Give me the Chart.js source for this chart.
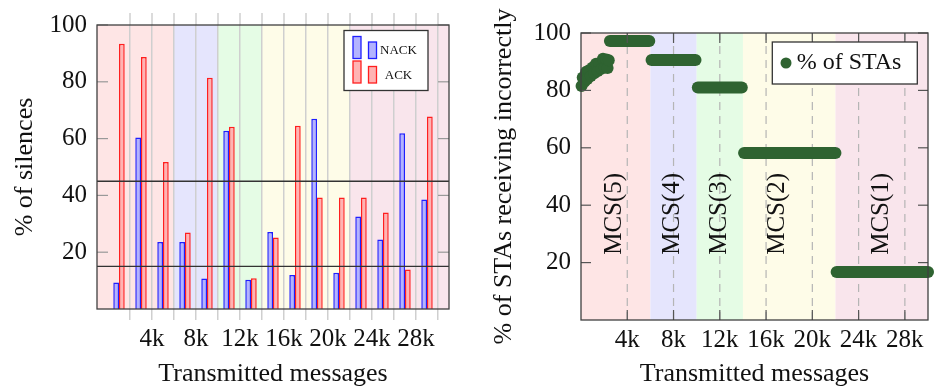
<!DOCTYPE html>
<html>
<head>
<meta charset="utf-8">
<script src="https://cdn.jsdelivr.net/npm/chart.js@4/dist/chart.umd.min.js"></script>
<style>
  body { margin: 0; background: #fff; width: 934px; height: 390px; overflow: hidden; position: relative; }
  .box { position: absolute; top: 0; width: 467px; height: 390px; }
  #left { left: 0; }
  #right { left: 467px; }
</style>
</head>
<body>
<div class="box" id="left"><canvas id="silences"></canvas></div>
<div class="box" id="right"><canvas id="stas"></canvas></div>
<script>
// ---- data ----
const groupX = [1000, 3000, 5000, 7000, 9000, 11000, 13000, 15000, 17000, 19000, 21000, 23000, 25000, 27000, 29000];
const nackPct = [9.3, 60.4, 23.6, 23.6, 10.7, 62.8, 10.3, 27.1, 12.0, 67.0, 12.8, 32.6, 24.5, 61.9, 38.6];
const ackPct = [93.4, 88.7, 51.8, 26.9, 81.4, 64.2, 10.8, 25.2, 64.5, 39.3, 39.3, 39.3, 34.0, 13.9, 67.8];
const thresholds = [15, 45];

const yTicks = [20, 40, 60, 80, 100];
const leftGridTicks = [2000, 4000, 6000, 8000, 10000, 12000, 14000, 16000, 18000, 20000, 22000, 24000, 26000, 28000, 30000];
const labelTicks = [4000, 8000, 12000, 16000, 20000, 24000, 28000];

// MCS regions (same on both plots)
const mcsEdges = [6000, 10000, 14000, 22000];
const bandColors = ['#fee5e5', '#e5e5fd', '#e5fce5', '#fefce8', '#f9e5ec'];
const mcsNames = ['MCS(5)', 'MCS(4)', 'MCS(3)', 'MCS(2)', 'MCS(1)'];
const mcsLabelX = [2900, 7900, 12000, 16950, 25950];
const mcsLabelY = 37;

// % of STAs: scattered start, then flat runs per MCS
const earlyX = [50, 150, 300, 450, 550, 700, 850, 1000, 1150, 1300, 1450, 1600, 1750, 1900, 2050, 2200, 2300, 2400];
const earlyY = [81.5, 84.5, 83, 86.5, 84, 87, 85, 88, 86, 89.3, 86.8, 89.5, 87.5, 91, 88, 90.8, 87.8, 90.5];
const runFrom = [2500, 6100, 10100, 14100, 22100];
const runTo = [5900, 9900, 13900, 22000, 30000];
const runPct = [97.2, 90.6, 81.0, 58.2, 16.7];

// ---- styling ----
const family = 'Liberation Serif';
const ink = '#111';
const frameColor = '#404040';
const green = '#2f6331';

function line(ctx, x1, y1, x2, y2) {
  ctx.beginPath();
  ctx.moveTo(x1, y1);
  ctx.lineTo(x2, y2);
  ctx.stroke();
}

function kLabel(v) {
  return labelTicks.includes(v) ? (v / 1000) + 'k' : '';
}

function drawBands(chart) {
  const { ctx, chartArea: a, scales: { x } } = chart;
  const edges = [a.left, ...mcsEdges.map(v => x.getPixelForValue(v)), a.right];
  ctx.save();
  bandColors.forEach((c, i) => {
    ctx.fillStyle = c;
    ctx.fillRect(edges[i], a.top, edges[i + 1] - edges[i], a.bottom - a.top);
  });
  ctx.restore();
}

function drawFrame(ctx, a) {
  ctx.strokeStyle = frameColor;
  ctx.lineWidth = 1.3;
  ctx.strokeRect(a.left, a.top, a.right - a.left, a.bottom - a.top);
}

// left plot extras: bands, grid stubs, inner ticks, threshold lines, legend
const silencesDecor = {
  id: 'silencesDecor',
  beforeDraw(chart) { drawBands(chart); },
  afterDatasetsDraw(chart) {
    const { ctx, chartArea: a, scales: { x, y } } = chart;
    ctx.save();
    ctx.strokeStyle = '#cfcfcf';
    ctx.lineWidth = 1.5;
    leftGridTicks.forEach(v => {
      const px = x.getPixelForValue(v);
      line(ctx, px, a.top - 12, px, a.top);
    });
    ctx.strokeStyle = '#999';
    ctx.lineWidth = 1.2;
    yTicks.forEach(v => {
      const py = y.getPixelForValue(v);
      line(ctx, a.left, py, a.left + 11, py);
      line(ctx, a.right - 11, py, a.right, py);
    });
    ctx.strokeStyle = '#333';
    ctx.lineWidth = 1.4;
    thresholds.forEach(v => {
      const py = y.getPixelForValue(v);
      line(ctx, a.left, py, a.right, py);
    });
    drawFrame(ctx, a);

    // legend
    const bx = a.right - 105, by = a.top + 5.5, w = 84, h = 60;
    ctx.fillStyle = '#fff';
    ctx.fillRect(bx, by, w, h);
    ctx.strokeStyle = '#333';
    ctx.lineWidth = 1.3;
    ctx.strokeRect(bx, by, w, h);
    chart.data.datasets.forEach((ds, i) => {
      const top = by + 6 + i * 24.5;
      ctx.fillStyle = ds.backgroundColor;
      ctx.strokeStyle = ds.borderColor;
      ctx.lineWidth = 1.3;
      ctx.fillRect(bx + 9, top, 8, 22);
      ctx.strokeRect(bx + 9, top, 8, 22);
      ctx.fillRect(bx + 24.5, top + 5.5, 8, 16.5);
      ctx.strokeRect(bx + 24.5, top + 5.5, 8, 16.5);
      ctx.fillStyle = ink;
      ctx.font = '13px ' + family;
      ctx.textAlign = 'center';
      ctx.textBaseline = 'middle';
      ctx.fillText(ds.label, bx + 54.5, top + 14.5);
    });
    ctx.restore();
  }
};

// right plot extras: bands, dashed grid, MCS labels, inner ticks, legend
const stasDecor = {
  id: 'stasDecor',
  beforeDraw(chart) { drawBands(chart); },
  beforeDatasetsDraw(chart) {
    const { ctx, chartArea: a, scales: { x, y } } = chart;
    ctx.save();
    ctx.strokeStyle = '#b5b5b5';
    ctx.lineWidth = 1.2;
    ctx.setLineDash([8, 6]);
    labelTicks.forEach(v => {
      const px = x.getPixelForValue(v);
      line(ctx, px, a.bottom, px, a.top);
    });
    ctx.setLineDash([]);
    ctx.fillStyle = ink;
    ctx.font = '25px ' + family;
    ctx.textAlign = 'center';
    ctx.textBaseline = 'middle';
    mcsNames.forEach((name, i) => {
      ctx.save();
      ctx.translate(x.getPixelForValue(mcsLabelX[i]), y.getPixelForValue(mcsLabelY));
      ctx.rotate(-Math.PI / 2);
      ctx.fillText(name, 0, 0);
      ctx.restore();
    });
    ctx.restore();
  },
  afterDatasetsDraw(chart) {
    const { ctx, chartArea: a, scales: { x, y } } = chart;
    ctx.save();
    ctx.strokeStyle = '#555';
    ctx.lineWidth = 1.2;
    yTicks.forEach(v => {
      const py = y.getPixelForValue(v);
      line(ctx, a.left, py, a.left + 10, py);
      line(ctx, a.right - 10, py, a.right, py);
    });
    labelTicks.forEach(v => {
      const px = x.getPixelForValue(v);
      line(ctx, px, a.bottom, px, a.bottom - 10);
      line(ctx, px, a.top, px, a.top + 10);
    });
    drawFrame(ctx, a);

    const bx = a.right - 155.7, by = a.top + 9, w = 145, h = 42;
    ctx.fillStyle = '#fff';
    ctx.fillRect(bx, by, w, h);
    ctx.strokeStyle = '#333';
    ctx.lineWidth = 1.3;
    ctx.strokeRect(bx, by, w, h);
    ctx.fillStyle = green;
    ctx.beginPath();
    ctx.arc(bx + 13.7, by + 21, 5.5, 0, Math.PI * 2);
    ctx.fill();
    ctx.fillStyle = ink;
    ctx.font = '24px ' + family;
    ctx.textAlign = 'left';
    ctx.textBaseline = 'middle';
    ctx.fillText('% of STAs', bx + 24.4, by + 21);
    ctx.restore();
  }
};

const tickFont = { family, size: 25 };
const titleFont = { family, size: 26 };

new Chart(document.getElementById('silences'), {
  type: 'bar',
  data: {
    datasets: [
      { label: 'NACK', data: groupX.map((x, i) => ({ x, y: nackPct[i] })),
        backgroundColor: '#b3b3ff', borderColor: '#1f1fff', borderWidth: 1.5 },
      { label: 'ACK', data: groupX.map((x, i) => ({ x, y: ackPct[i] })),
        backgroundColor: '#ffb3b3', borderColor: '#ff1f1f', borderWidth: 1.5 }
    ]
  },
  options: {
    responsive: true,
    maintainAspectRatio: false,
    animation: false,
    layout: { padding: { top: 22, right: 18, left: 0, bottom: 0 } },
    datasets: { bar: { barPercentage: 1, categoryPercentage: 0.52 } },
    plugins: { legend: { display: false }, tooltip: { enabled: false } },
    scales: {
      x: {
        type: 'linear', min: -1000, max: 31000, offset: false,
        afterBuildTicks: s => { s.ticks = leftGridTicks.map(v => ({ value: v })); },
        afterFit: s => { s.height = 81; },
        grid: { offset: false, color: '#cfcfcf', lineWidth: 1.5, tickLength: 11, tickColor: '#cfcfcf' },
        border: { display: false },
        ticks: { autoSkip: false, maxRotation: 0, padding: 4, color: ink, font: tickFont, callback: v => kLabel(v) },
        title: { display: true, text: 'Transmitted messages', color: ink, font: titleFont, padding: { top: 0, bottom: 0 } }
      },
      y: {
        min: 0, max: 100,
        afterBuildTicks: s => { s.ticks = yTicks.map(v => ({ value: v })); },
        afterFit: s => { s.width = 97; },
        grid: { display: false, drawTicks: false },
        border: { display: false },
        ticks: { padding: 10, color: ink, font: tickFont },
        title: { display: true, text: '% of silences', color: ink, font: titleFont, padding: { top: 10, bottom: 0 } }
      }
    }
  },
  plugins: [silencesDecor]
});

new Chart(document.getElementById('stas'), {
  type: 'scatter',
  data: {
    datasets: [
      { data: earlyX.map((x, i) => ({ x, y: earlyY[i] })),
        pointRadius: 6, pointBackgroundColor: green, pointBorderWidth: 0, clip: false },
      ...runPct.map((p, i) => ({
        data: [{ x: runFrom[i], y: p }, { x: runTo[i], y: p }],
        showLine: true, borderColor: green, borderWidth: 12, borderCapStyle: 'round',
        pointRadius: 0, clip: false
      }))
    ]
  },
  options: {
    responsive: true,
    maintainAspectRatio: false,
    animation: false,
    layout: { padding: { top: 33, right: 1, left: 0, bottom: 0 } },
    plugins: { legend: { display: false }, tooltip: { enabled: false } },
    scales: {
      x: {
        type: 'linear', min: 0, max: 30000,
        afterBuildTicks: s => { s.ticks = labelTicks.map(v => ({ value: v })); },
        afterFit: s => { s.height = 70; },
        grid: { display: false, drawTicks: false },
        border: { display: false },
        ticks: { autoSkip: false, maxRotation: 0, padding: 5, color: ink, font: tickFont, callback: v => kLabel(v) },
        title: { display: true, text: 'Transmitted messages', color: ink, font: titleFont, padding: { top: 0, bottom: 0 } }
      },
      y: {
        min: 0, max: 100,
        afterBuildTicks: s => { s.ticks = yTicks.map(v => ({ value: v })); },
        afterFit: s => { s.width = 114; },
        grid: { display: false, drawTicks: false },
        border: { display: false },
        ticks: { padding: 10, color: ink, font: tickFont },
        title: { display: true, text: '% of STAs receiving incorrectly', color: ink, font: titleFont, padding: { top: 22, bottom: 0 } }
      }
    }
  },
  plugins: [stasDecor]
});
</script>
</body>
</html>
